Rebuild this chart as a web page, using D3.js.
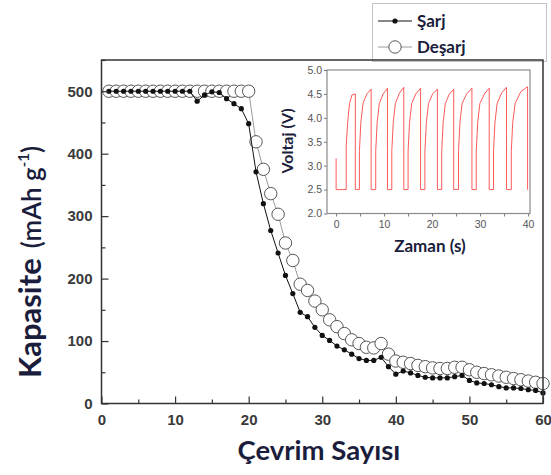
<!DOCTYPE html>
<html>
<head>
<meta charset="utf-8">
<script src="https://cdn.jsdelivr.net/npm/d3@7"></script>
<style>
  html, body { margin: 0; padding: 0; background: #fff; }
  svg { display: block; }
</style>
</head>
<body>
<svg id="chart" width="551" height="475"></svg>
<script>
// Cycle numbers and capacities (mAh g-1)
const cycles = d3.range(1, 61);
const charge = [
  500, 500, 500, 500, 500, 500, 500, 500, 500, 500,
  500, 500, 484, 494, 499, 498, 488, 480, 472, 448,
  371, 320, 277, 241, 205, 176, 146, 139, 122, 109,
  101, 92, 86, 79, 72, 69, 69, 74, 59, 47,
  52, 49, 45, 42, 41, 41, 41, 43, 45, 37,
  33, 32, 30, 27, 25, 25, 24, 22, 21, 17
];
const discharge = [
  500, 500, 500, 500, 500, 500, 500, 500, 500, 500,
  500, 500, 500, 500, 500, 500, 500, 500, 500, 500,
  419, 375, 336, 303, 257, 229, 191, 181, 164, 150,
  134, 123, 112, 102, 96, 90, 89, 96, 79, 68,
  66, 64, 61, 59, 57, 56, 56, 58, 58, 54,
  50, 48, 46, 44, 42, 40, 38, 36, 34, 32
];
const xTicks = [0, 10, 20, 30, 40, 50, 60];
const yTicks = [0, 100, 200, 300, 400, 500];
const seriesNames = ["Şarj", "Deşarj"];

// Inset: voltage (V) against time (s)
const voltTime = [
  0, 0,
  2.1, 2.1, 2.4, 2.8, 3.3, 4.0, 4.0,
  4.85, 4.85, 5.15, 5.6, 6.4, 7.3, 7.3,
  8.25, 8.25, 8.55, 9.0, 9.8, 10.7, 10.7,
  11.6, 11.6, 11.9, 12.35, 13.2, 14.1, 14.1,
  15.0, 15.0, 15.3, 15.75, 16.6, 17.6, 17.6,
  18.5, 18.5, 18.8, 19.25, 20.1, 21.1, 21.1,
  22.0, 22.0, 22.3, 22.75, 23.6, 24.5, 24.5,
  25.5, 25.5, 25.8, 26.25, 27.2, 28.3, 28.3,
  29.2, 29.2, 29.5, 29.95, 30.9, 31.9, 31.9,
  32.8, 32.8, 33.1, 33.55, 34.5, 35.5, 35.5,
  36.5, 36.5, 36.8, 37.3, 38.5, 39.9, 39.9,
  40.0
];
const voltValue = [
  3.15, 2.5,
  2.5, 3.4, 3.9, 4.3, 4.48, 4.5, 2.5,
  2.5, 3.3, 3.9, 4.3, 4.5, 4.6, 2.5,
  2.5, 3.3, 3.9, 4.3, 4.5, 4.62, 2.5,
  2.5, 3.3, 3.9, 4.3, 4.52, 4.64, 2.5,
  2.5, 3.3, 3.9, 4.3, 4.5, 4.62, 2.5,
  2.5, 3.3, 3.9, 4.3, 4.5, 4.6, 2.5,
  2.5, 3.3, 3.9, 4.3, 4.5, 4.6, 2.5,
  2.5, 3.3, 3.9, 4.3, 4.5, 4.62, 2.5,
  2.5, 3.3, 3.9, 4.3, 4.5, 4.62, 2.5,
  2.5, 3.3, 3.9, 4.3, 4.52, 4.64, 2.5,
  2.5, 3.3, 3.9, 4.3, 4.55, 4.65, 2.5,
  2.5
];
const insetXTicks = [0, 10, 20, 30, 40];
const insetYTicks = [2.0, 2.5, 3.0, 3.5, 4.0, 4.5, 5.0];

const svg = d3.select("#chart");
const titleColor = "#1b1d3c";
const tickFont = "Liberation Sans, Arial, sans-serif";
const titleFont = "Lato, 'Open Sans', sans-serif";

// ---- main panel ----
const x = d3.scaleLinear().domain([0, 60]).range([101.5, 543]);
const y = d3.scaleLinear().domain([0, 550]).range([403.5, 60]);

const main = svg.append("g");

// Deşarj: grey line with open circles
main.append("path")
  .datum(cycles.map((c, i) => [c, discharge[i]]))
  .attr("fill", "none")
  .attr("stroke", "#9a9a9a")
  .attr("stroke-width", 1)
  .attr("d", d3.line().x(d => x(d[0])).y(d => y(d[1])));
main.append("g").selectAll("circle")
  .data(cycles.map((c, i) => [c, discharge[i]]))
  .join("circle")
  .attr("cx", d => x(d[0]))
  .attr("cy", d => y(d[1]))
  .attr("r", 6.2)
  .attr("fill", "#fff")
  .attr("stroke", "#555")
  .attr("stroke-width", 1);

// Şarj: black line with small filled dots
main.append("path")
  .datum(cycles.map((c, i) => [c, charge[i]]))
  .attr("fill", "none")
  .attr("stroke", "#111")
  .attr("stroke-width", 1)
  .attr("d", d3.line().x(d => x(d[0])).y(d => y(d[1])));
main.append("g").selectAll("circle")
  .data(cycles.map((c, i) => [c, charge[i]]))
  .join("circle")
  .attr("cx", d => x(d[0]))
  .attr("cy", d => y(d[1]))
  .attr("r", 2.6)
  .attr("fill", "#111");

// Axes with inward ticks
const xAxisG = svg.append("g").attr("transform", `translate(0,${y.range()[0]})`)
  .call(d3.axisBottom(x).tickValues(d3.range(0, 61, 5)).tickSize(-4)
        .tickFormat(d => xTicks.includes(d) ? d : ""));
xAxisG.selectAll(".tick line")
  .attr("y2", d => xTicks.includes(d) ? -7 : -4);
const yAxisG = svg.append("g").attr("transform", `translate(${x.range()[0]},0)`)
  .call(d3.axisLeft(y).tickValues(d3.range(0, 551, 50)).tickSize(-4)
        .tickFormat(d => yTicks.includes(d) ? d : ""));
yAxisG.selectAll(".tick line")
  .attr("x2", d => yTicks.includes(d) ? 7 : 4);
[xAxisG, yAxisG].forEach(g => {
  g.select(".domain").remove();
  g.selectAll(".tick line").attr("stroke", "#333").attr("stroke-width", 1.2);
  g.selectAll(".tick text")
    .attr("fill", "#3a3a3a")
    .style("font-family", tickFont)
    .style("font-size", "15px")
    .style("font-weight", "bold");
});
xAxisG.selectAll(".tick text").attr("y", 11);
yAxisG.selectAll(".tick text").attr("x", -9);

// Legend (sits behind the top edge of the frame)
const legend = svg.append("g");
legend.append("rect")
  .attr("x", 372.5).attr("y", 3.5).attr("width", 174).attr("height", 58)
  .attr("fill", "#fff").attr("stroke", "#c4c4c4");
const legendRows = [
  { name: seriesNames[0], yy: 21, open: false },
  { name: seriesNames[1], yy: 47, open: true }
];
legendRows.forEach(r => {
  legend.append("line")
    .attr("x1", 378).attr("x2", 412).attr("y1", r.yy).attr("y2", r.yy)
    .attr("stroke", r.open ? "#9a9a9a" : "#111");
  legend.append("circle")
    .attr("cx", 395).attr("cy", r.yy)
    .attr("r", r.open ? 6.2 : 2.6)
    .attr("fill", r.open ? "#fff" : "#111")
    .attr("stroke", r.open ? "#555" : "none");
  legend.append("text")
    .attr("x", 417).attr("y", r.yy + 6)
    .attr("fill", titleColor)
    .style("font-family", titleFont)
    .style("font-weight", "bold")
    .style("font-size", "17px")
    .text(r.name);
});

// Frame
svg.append("rect")
  .attr("x", x.range()[0]).attr("y", y.range()[1])
  .attr("width", x.range()[1] - x.range()[0])
  .attr("height", y.range()[0] - y.range()[1])
  .attr("fill", "none").attr("stroke", "#333").attr("stroke-width", 1.5);

// Axis titles
svg.append("text")
  .attr("x", 319).attr("y", 460)
  .attr("text-anchor", "middle")
  .attr("fill", titleColor)
  .style("font-family", titleFont)
  .style("font-weight", "bold")
  .style("font-size", "27.5px")
  .text("Çevrim Sayısı");

const yTitle = svg.append("text")
  .attr("transform", "translate(41,262) rotate(-90)")
  .attr("text-anchor", "middle")
  .attr("fill", titleColor)
  .style("font-family", titleFont);
yTitle.append("tspan").style("font-weight", "bold").style("font-size", "31px").text("Kapasite");
yTitle.append("tspan").style("font-size", "26px").style("font-weight", "600").attr("dx", 10).text("(mAh g");
yTitle.append("tspan").style("font-size", "15px").style("font-weight", "600").attr("dy", -12).text("-1");
yTitle.append("tspan").style("font-size", "26px").style("font-weight", "600").attr("dy", 12).text(")");

// ---- inset ----
const ix = d3.scaleLinear().domain([-1.9, 40.4]).range([327, 530]);
const iy = d3.scaleLinear().domain([2, 5]).range([213.5, 70]);

svg.append("path")
  .datum(voltTime.map((t, i) => [t, voltValue[i]]))
  .attr("fill", "none")
  .attr("stroke", "#ff5a5a")
  .attr("stroke-width", 1)
  .attr("d", d3.line().x(d => ix(d[0])).y(d => iy(d[1])));

const ixAxis = svg.append("g").attr("transform", `translate(0,${iy.range()[0]})`)
  .call(d3.axisBottom(ix).tickValues(d3.range(0, 41, 5)).tickSize(3)
        .tickFormat(d => insetXTicks.includes(d) ? d : ""));
const iyAxis = svg.append("g").attr("transform", `translate(${ix.range()[0]},0)`)
  .call(d3.axisLeft(iy).tickValues(insetYTicks).tickSize(3)
        .tickFormat(d3.format(".1f")));
[ixAxis, iyAxis].forEach(g => {
  g.select(".domain").remove();
  g.selectAll(".tick line").attr("stroke", "#777");
  g.selectAll(".tick text")
    .attr("fill", "#555")
    .style("font-family", tickFont)
    .style("font-size", "10.5px");
});
ixAxis.selectAll(".tick text").attr("y", 7);
iyAxis.selectAll(".tick text").attr("x", -5);

svg.append("rect")
  .attr("x", ix.range()[0]).attr("y", iy.range()[1])
  .attr("width", ix.range()[1] - ix.range()[0])
  .attr("height", iy.range()[0] - iy.range()[1])
  .attr("fill", "none").attr("stroke", "#8a8a8a").attr("stroke-width", 1.2);

svg.append("text")
  .attr("x", 430).attr("y", 252)
  .attr("text-anchor", "middle")
  .attr("fill", titleColor)
  .style("font-family", titleFont)
  .style("font-weight", "bold")
  .style("font-size", "17px")
  .text("Zaman (s)");
svg.append("text")
  .attr("transform", "translate(293,141) rotate(-90)")
  .attr("text-anchor", "middle")
  .attr("fill", titleColor)
  .style("font-family", titleFont)
  .style("font-weight", "bold")
  .style("font-size", "16px")
  .text("Voltaj (V)");
</script>
</body>
</html>
